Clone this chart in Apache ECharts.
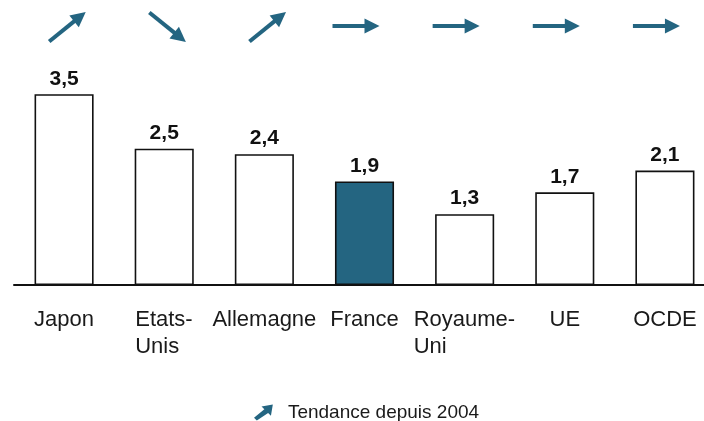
<!DOCTYPE html>
<html>
<head>
<meta charset="utf-8">
<script src="https://cdn.jsdelivr.net/npm/echarts@6/dist/echarts.min.js"></script>
<style>html,body{margin:0;padding:0;background:#fff}#c{width:704px;height:421px}</style>
</head>
<body>
<div id="c"></div>
<script>
const categories = ['Japon', 'Etats-Unis', 'Allemagne', 'France', 'Royaume-Uni', 'UE', 'OCDE'];
const values = [3.5, 2.5, 2.4, 1.9, 1.3, 1.7, 2.1];
// trend since 2004: 1 = up, -1 = down, 0 = stable
const trends = [1, -1, 1, 0, 0, 0, 0];
const highlight = 'France';
const legendLabel = 'Tendance depuis 2004';

const FONT = '"Liberation Sans", Arial, sans-serif';
const BLUE = '#246581';
const CAT_SIZE = 22;

const ctx = document.createElement('canvas').getContext('2d');
ctx.font = CAT_SIZE + 'px "Liberation Sans", Arial, sans-serif';

const rich = {};
categories.forEach(c => {
  const i = c.indexOf('-');
  if (i >= 0) {
    const w = Math.ceil(ctx.measureText(c.slice(0, i + 1)).width);
    rich['w' + w] = {width: w, align: 'left', fontFamily: FONT, fontSize: CAT_SIZE, color: '#1a1a1a', lineHeight: 27};
  }
});

const chart = echarts.init(document.getElementById('c'), null, {renderer: 'canvas'});
chart.setOption({
  animation: false,
  backgroundColor: '#fff',
  grid: {left: 14, width: 701, top: 67, bottom: 136, containLabel: false, outerBoundsMode: 'none'},
  legend: {
    left: 249, top: 398,
    itemWidth: 39, itemHeight: 16,
    data: [{name: legendLabel, icon: 'path://M0,14 L11,5 L8,2 L20,0 L18,12 L15,9 L3,17 Z'}],
    textStyle: {fontFamily: FONT, fontSize: 19, color: '#1a1a1a'}
  },
  xAxis: {
    type: 'category',
    data: categories,
    axisTick: {show: false},
    axisLine: {lineStyle: {color: '#111', width: 2}},
    axisLabel: {
      interval: 0,
      margin: 21,
      fontFamily: FONT, fontSize: CAT_SIZE, color: '#1a1a1a', lineHeight: 27,
      formatter: function (v) {
        const i = v.indexOf('-');
        if (i < 0) return v;
        const key = 'w' + Math.ceil(ctx.measureText(v.slice(0, i + 1)).width);
        return '{' + key + '|' + v.slice(0, i + 1) + '}\n{' + key + '|' + v.slice(i + 1) + '}';
      },
      rich: rich
    }
  },
  yAxis: {type: 'value', min: 0, max: 4, show: false, splitLine: {show: false}},
  series: [
    {
      type: 'bar',
      barWidth: '59%',
      data: values.map((v, i) => ({
        value: v,
        itemStyle: {color: categories[i] === highlight ? BLUE : '#fff'}
      })),
      itemStyle: {borderColor: '#111', borderWidth: 1.6},
      label: {
        show: true, position: 'top', distance: 5,
        fontFamily: FONT, fontSize: 21, fontWeight: 'bold', color: '#111',
        formatter: p => String(p.value).replace('.', ',')
      }
    },
    {
      type: 'custom',
      name: legendLabel,
      itemStyle: {color: BLUE},
      data: trends.map((t, i) => [i, t]),
      renderItem: function (params, api) {
        const idx = api.value(0), dir = api.value(1);
        const cx = api.coord([idx, 0])[0] + (dir === 0 ? -9 : 3);
        const cy = dir === 0 ? 26 : 27;
        const rot = dir * 0.68;
        return {
          type: 'group',
          x: cx, y: cy, rotation: rot,
          children: [
            {type: 'line', shape: {x1: -23, y1: 0, x2: 11, y2: 0},
             style: {stroke: BLUE, lineWidth: 4}},
            {type: 'polygon', shape: {points: [[9, -7.5], [24, 0], [9, 7.5]]},
             style: {fill: BLUE}}
          ]
        };
      }
    }
  ]
});
</script>
</body>
</html>
